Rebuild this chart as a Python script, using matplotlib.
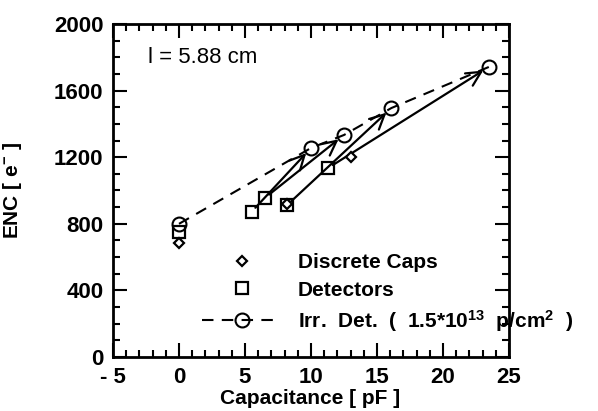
import matplotlib
matplotlib.use("Agg")
import matplotlib.pyplot as plt
from matplotlib.ticker import MultipleLocator

plt.rcParams["font.family"] = ["Liberation Sans", "DejaVu Sans"]
plt.rcParams["mathtext.fontset"] = "custom"
plt.rcParams["mathtext.rm"] = "Liberation Sans:bold"
plt.rcParams["mathtext.default"] = "rm"

# discrete capacitors (diamonds)
caps_c = [0.0, 8.2, 13.0]
caps_enc = [685, 920, 1200]

# detectors before irradiation (squares)
det_c = [0.0, 5.5, 6.5, 8.2, 11.3]
det_enc = [750, 872, 955, 913, 1135]

# irradiated detectors (circles, dashed)
irr_c = [0.0, 10.0, 12.5, 16.1, 23.5]
irr_enc = [800, 1255, 1333, 1495, 1742]

# arrows: detector index -> irradiated index
arrow_pairs = [(1, 1), (2, 2), (3, 3), (4, 4)]

x_ticks = [-5, 0, 5, 10, 15, 20, 25]
x_tick_labels = ["- 5", "0", "5", "10", "15", "20", "25"]
y_ticks = [0, 400, 800, 1200, 1600, 2000]

fig = plt.figure(figsize=(5.98, 4.11), dpi=100)
ax = fig.add_axes([0.189, 0.131, 0.662, 0.811])

ax.plot(caps_c, caps_enc, linestyle="none", marker="D", ms=5.5, mfc="white",
        mec="black", mew=1.6, label="Discrete Caps", zorder=4)
ax.plot(det_c, det_enc, linestyle="none", marker="s", ms=8, mfc="none",
        mec="black", mew=1.6, label="Detectors", zorder=4)
ax.plot(irr_c, irr_enc, color="black", lw=1.5, dashes=(5.5, 4), marker="o",
        ms=10, mfc="none", mec="black", mew=1.5,
        label=r"Irr.  Det.  (  1.5*$10^{13}$  p/$\mathrm{cm}^{2}$  )", zorder=3)

for i_det, i_irr in arrow_pairs:
    ax.annotate("", xy=(irr_c[i_irr], irr_enc[i_irr]),
                xytext=(det_c[i_det], det_enc[i_det]),
                arrowprops=dict(arrowstyle="->", color="black", lw=1.6,
                                mutation_scale=26, shrinkA=4, shrinkB=5))

ax.set_xlim(-5, 25)
ax.set_ylim(0, 2000)
ax.set_xticks(x_ticks)
ax.set_xticklabels(x_tick_labels)
ax.set_yticks(y_ticks)
ax.xaxis.set_minor_locator(MultipleLocator(1))
ax.yaxis.set_minor_locator(MultipleLocator(100))
ax.tick_params(which="both", direction="in", top=True, right=True, width=1.5)
ax.tick_params(which="major", length=10, labelsize=16, pad=7)
ax.tick_params(which="minor", length=5)
for lab in ax.get_xticklabels() + ax.get_yticklabels():
    lab.set_fontweight("bold")
for sp in ax.spines.values():
    sp.set_linewidth(2)

ax.set_xlabel("Capacitance [ pF ]", fontsize=15, fontweight="bold")
ax.xaxis.set_label_coords(0.497, -0.095)
ax.set_ylabel("ENC [ e$^{-}$ ]", fontsize=15, fontweight="bold")
ax.yaxis.set_label_coords(-0.225, 0.50)

ax.text(0.088, 0.898, "l = 5.88 cm", transform=ax.transAxes, fontsize=16,
        va="center", ha="left")

ax.legend(loc="upper left", bbox_to_anchor=(0.338, 0.384),
          bbox_transform=fig.transFigure, frameon=False, borderpad=0,
          borderaxespad=0, handlelength=3.8, handletextpad=0.8,
          labelspacing=0.4, prop={"size": 15, "weight": "bold"})

plt.savefig("out.png", dpi=100)
plt.close()
